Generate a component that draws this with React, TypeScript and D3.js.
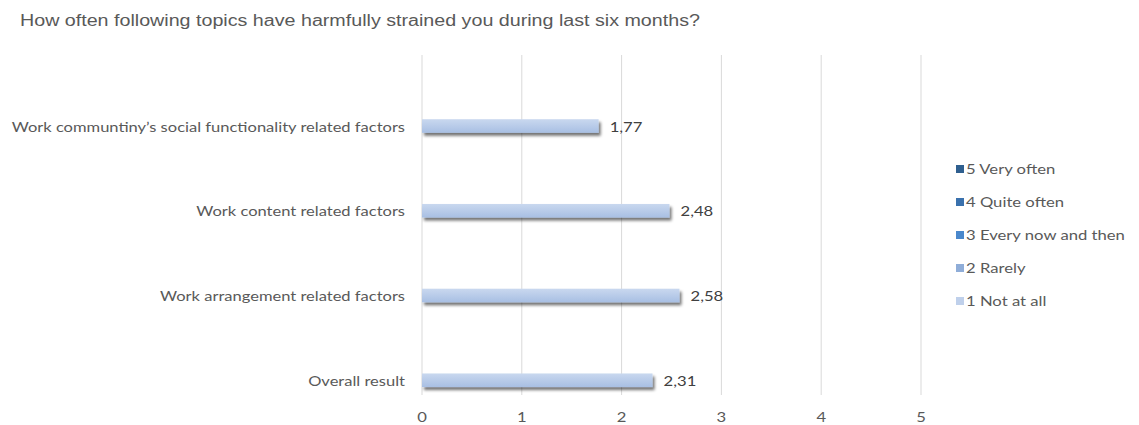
import React from "react";
import * as d3 from "d3";

const categories = [
  "Work communtiny’s social functionality related factors",
  "Work content related factors",
  "Work arrangement related factors",
  "Overall result",
];
const values = [1.77, 2.48, 2.58, 2.31];
const seriesNames = ["5 Very often", "4 Quite often", "3 Every now and then", "2 Rarely", "1 Not at all"];
const seriesColors = ["#2f5f8f", "#3a71ad", "#4a88cc", "#8fadd8", "#bfd0eb"];
const xTicks = [0, 1, 2, 3, 4, 5];

const SX = 1.19;
const labelFont = "Lato, 'Open Sans', sans-serif";

function T(props: { x: number; y: number; anchor?: string; size?: number; fill?: string; font?: string; sx?: number; children: any }) {
  const { x, y, anchor = "start", size = 14, fill = "#595959", font = labelFont, sx = SX, children } = props;
  return (
    <g transform={`translate(${x},${y}) scale(${sx},1)`}>
      <text x={0} y={0} textAnchor={anchor} fontFamily={font} fontSize={size} fill={fill}>{children}</text>
    </g>
  );
}

export default function App() {
  const W = 1139, H = 425;
  const x = d3.scaleLinear().domain([0, 5]).range([422, 921]);
  const y = d3.scaleBand<string>().domain(categories).range([55, 394]);
  const inner = d3.scaleBand<string>().domain(seriesNames).range([0, y.bandwidth()]).paddingOuter(0.46);
  const barSeries = seriesNames[4];
  const bh = inner.bandwidth() * 0.95;
  return (
    <svg width={W} height={H} style={{ position: "absolute", left: 0, top: 0, background: "#fff" }}>
      <defs>
        <linearGradient id="barg" x1="0" y1="0" x2="0" y2="1">
          <stop offset="0" stopColor="#c9d8ef" />
          <stop offset="1" stopColor="#a8bfe3" />
        </linearGradient>
        <filter id="sh" x="-5%" y="-50%" width="115%" height="250%">
          <feGaussianBlur in="SourceAlpha" stdDeviation="1.6" />
          <feOffset dx="2" dy="3" result="b" />
          <feComponentTransfer><feFuncA type="linear" slope="0.55" /></feComponentTransfer>
          <feMerge><feMergeNode /><feMergeNode in="SourceGraphic" /></feMerge>
        </filter>
      </defs>
      <T x={20} y={26} font="'Liberation Sans', Arial, sans-serif" size={16} sx={1.23}>
        How often following topics have harmfully strained you during last six months?
      </T>
      {xTicks.map((t) => (
        <g key={t}>
          <line x1={x(t)} x2={x(t)} y1={55} y2={395} stroke="#d9d9d9" strokeWidth={1} />
          <T x={x(t)} y={422} anchor="middle">{t}</T>
        </g>
      ))}
      {categories.map((c, i) => {
        const yy = (y(c) as number) + (inner(barSeries) as number) + (inner.bandwidth() - bh) / 2;
        return (
          <g key={c}>
            <rect x={x(0)} y={yy} width={x(values[i]) - x(0)} height={bh} fill="url(#barg)" filter="url(#sh)" />
            <T x={405} y={yy + bh / 2 + 5.5} anchor="end" sx={1.18}>{c}</T>
            <T x={x(values[i]) + 11} y={yy + bh / 2 + 5.5} fill="#404040">
              {values[i].toFixed(2).replace(".", ",")}
            </T>
          </g>
        );
      })}
      {seriesNames.map((s, i) => (
        <g key={s}>
          <rect x={956} y={165 + i * 33} width={8} height={8} fill={seriesColors[i]} />
          <T x={966} y={174 + i * 33}>{s}</T>
        </g>
      ))}
    </svg>
  );
}
